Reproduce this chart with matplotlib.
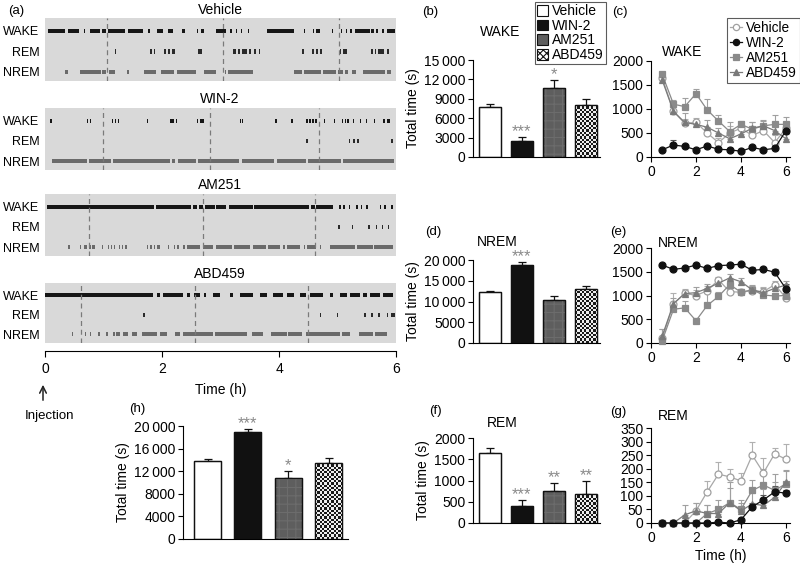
import matplotlib
matplotlib.use("Agg")
import matplotlib.pyplot as plt
import numpy as np
from matplotlib.ticker import FuncFormatter
from matplotlib.patches import Patch, FancyArrowPatch

plt.rcParams['font.family'] = ['Liberation Sans', 'DejaVu Sans']
plt.rcParams['font.size'] = 9.5
plt.rcParams['hatch.linewidth'] = 0.8

W, H = 800, 563
fig = plt.figure(figsize=(W/100, H/100), dpi=100)

def box(x0, y0, x1, y1):
    return [x0/W, 1 - y1/H, (x1-x0)/W, (y1-y0)/H]

def txt(x, y, s, **kw):
    fig.text(x/W, 1 - y/H, s, **kw)

# ---------------- data ----------------
groups = ['Vehicle', 'WIN-2', 'AM251', 'ABD459']
states = ['WAKE', 'REM', 'NREM']

# hypnogram episodes (hours)
hyp = {
 'Vehicle': {
  'WAKE': [(0.05,0.34),(0.40,0.58),(0.66,0.68),(0.77,0.94),(0.97,1.05),(1.08,1.37),(1.42,1.68),(1.76,1.79),(1.91,2.02),(2.11,2.19),(2.34,2.39),(2.60,2.62),(2.66,2.71),(2.93,3.10),(3.16,3.20),(3.26,3.28),(3.35,3.37),(3.47,3.49),(3.79,4.25),(4.42,4.45),(4.58,4.60),(4.64,4.70),(4.90,4.92),(5.06,5.08),(5.14,5.17),(5.22,5.25),(5.30,5.55),(5.58,5.62),(5.66,5.70),(5.76,5.80),(5.84,5.99)],
  'REM': [(1.20,1.22),(1.80,1.82),(1.86,1.88),(2.04,2.06),(2.11,2.13),(2.17,2.22),(2.62,2.68),(3.22,3.26),(3.30,3.34),(3.37,3.45),(3.49,3.52),(3.58,3.60),(3.66,3.68),(4.40,4.43),(4.57,4.59),(4.64,4.66),(4.70,4.74),(5.04,5.06),(5.10,5.16),(5.58,5.60),(5.64,5.66),(5.70,5.80),(5.84,5.88)],
  'NREM': [(0.34,0.40),(0.60,0.95),(0.97,1.05),(1.09,1.20),(1.40,1.43),(1.69,1.90),(1.98,2.20),(2.25,2.58),(2.72,2.92),(3.08,3.10),(3.13,3.55),(4.25,4.40),(4.42,4.72),(4.76,4.98),(5.00,5.10),(5.13,5.18),(5.25,5.32),(5.43,5.82),(5.85,5.92)],
 },
 'WIN-2': {
  'WAKE': [(0.09,0.11),(0.72,0.74),(0.77,0.79),(1.14,1.16),(1.19,1.21),(1.25,1.27),(1.74,1.76),(2.14,2.21),(2.24,2.26),(2.59,2.61),(2.65,2.71),(3.33,3.35),(3.37,3.39),(3.93,3.97),(4.21,4.23),(4.47,4.49),(4.52,4.54),(4.57,4.59),(4.62,4.64),(4.77,4.79),(4.94,4.96),(5.07,5.09),(5.12,5.14),(5.17,5.19),(5.26,5.28),(5.38,5.40),(5.48,5.50),(5.62,5.64),(5.78,5.82),(5.85,5.89)],
  'REM': [(4.47,4.49),(5.20,5.22),(5.27,5.29),(5.34,5.36),(5.92,5.95)],
  'NREM': [(0.12,0.71),(0.75,1.13),(1.16,2.13),(2.17,2.23),(2.27,2.58),(2.62,3.32),(3.36,3.92),(3.96,4.46),(4.49,5.06),(5.09,5.97)],
 },
 'AM251': {
  'WAKE': [(0.03,1.86),(1.90,2.50),(2.53,2.60),(2.64,2.70),(2.73,2.90),(2.93,3.10),(3.14,3.55),(3.58,4.52),(4.55,4.62),(4.64,4.92),(5.03,5.05),(5.10,5.12),(5.20,5.22),(5.32,5.34),(5.40,5.42),(5.48,5.52),(5.72,5.74),(5.80,5.82),(5.92,5.94)],
  'REM': [(5.01,5.04),(5.24,5.25),(5.52,5.55),(5.66,5.68),(5.76,5.78),(5.86,5.88)],
  'NREM': [(0.40,0.42),(0.60,0.62),(0.66,0.71),(0.75,0.78),(0.81,0.85),(0.97,0.99),(1.08,1.10),(1.13,1.15),(1.18,1.20),(1.26,1.28),(1.31,1.34),(1.37,1.40),(1.74,1.76),(1.80,1.82),(1.86,1.88),(1.92,1.97),(2.10,2.12),(2.20,2.22),(2.26,2.29),(2.36,2.40),(2.42,2.65),(2.70,2.88),(2.93,3.20),(3.23,3.50),(3.56,3.78),(3.82,4.02),(4.07,4.10),(4.14,4.36),(4.42,4.44),(4.48,4.64),(4.70,4.72),(4.88,5.30),(5.33,5.60),(5.63,5.95)],
 },
 'ABD459': {
  'WAKE': [(0.0,1.85),(1.91,1.97),(2.02,2.36),(2.42,2.48),(2.54,2.65),(2.71,2.76),(2.88,2.99),(3.16,3.22),(3.33,3.56),(3.68,3.79),(3.90,4.07),(4.13,4.25),(4.36,4.47),(4.53,4.76),(4.87,4.93),(5.04,5.16),(5.21,5.38),(5.44,5.50),(5.56,5.73),(5.78,5.95)],
  'REM': [(1.68,1.70),(4.70,4.72),(4.99,5.01),(5.46,5.48),(5.58,5.60),(5.70,5.72),(5.84,5.86),(5.92,5.99)],
  'NREM': [(0.46,0.48),(0.68,0.70),(0.77,0.79),(0.91,0.93),(1.05,1.07),(1.17,1.19),(1.22,1.28),(1.34,1.42),(1.48,1.57),(1.65,1.91),(1.97,2.08),(2.22,2.31),(2.36,2.88),(2.91,3.45),(3.53,3.73),(3.87,4.13),(4.16,4.39),(4.47,5.04),(5.07,5.21),(5.36,5.61),(5.64,5.84)],
 },
}
dark_marks = {'Vehicle': [1.06, 3.04, 5.03], 'WIN-2': [0.99, 2.82, 4.68],
              'AM251': [0.75, 2.70, 4.62], 'ABD459': [0.62, 2.56, 4.50]}

# total times (s) and SEM
wake_tot = [7800, 2550, 10700, 8100]
wake_err = [450, 600, 1250, 850]
nrem_tot = [12200, 18800, 10300, 12900]
nrem_err = [250, 650, 1100, 950]
rem_tot = [1640, 405, 745, 690]
rem_err = [120, 125, 195, 295]
sleep_tot = [13750, 18950, 10850, 13500]
sleep_err = [350, 520, 1230, 880]
wake_stars = ['', '***', '*', '']
nrem_stars = ['', '***', '', '']
rem_stars = ['', '***', '**', '**']
sleep_stars = ['', '***', '*', '']

# time course (30-min bins)
t_h = [0.5, 1, 1.5, 2, 2.5, 3, 3.5, 4, 4.5, 5, 5.5, 6]
wake_tc = {
 'Vehicle': [1650, 950, 700, 720, 500, 300, 500, 600, 450, 550, 300, 600],
 'WIN-2':   [150, 250, 220, 150, 230, 160, 150, 120, 200, 150, 180, 550],
 'AM251':   [1720, 1100, 1050, 1320, 980, 750, 530, 680, 580, 650, 680, 680],
 'ABD459':  [1600, 950, 720, 680, 620, 500, 380, 480, 600, 650, 550, 380],
}
wake_tc_err = {
 'Vehicle': [60, 130, 100, 100, 120, 90, 150, 100, 150, 90, 150, 120],
 'WIN-2':   [20, 110, 30, 30, 30, 30, 30, 30, 40, 30, 40, 60],
 'AM251':   [60, 80, 170, 100, 230, 120, 200, 80, 150, 130, 200, 150],
 'ABD459':  [60, 100, 200, 100, 150, 100, 100, 80, 120, 100, 150, 100],
}
nrem_tc = {
 'Vehicle': [100, 820, 1050, 1000, 1100, 1330, 1080, 1070, 1100, 1080, 1230, 950],
 'WIN-2':   [1640, 1550, 1580, 1640, 1570, 1630, 1640, 1660, 1530, 1550, 1490, 1140],
 'AM251':   [50, 710, 740, 470, 790, 980, 1230, 1070, 1120, 1010, 990, 1000],
 'ABD459':  [150, 830, 1040, 1060, 1150, 1260, 1370, 1290, 1120, 1060, 1150, 1220],
}
nrem_tc_err = {
 'Vehicle': [200, 230, 80, 120, 100, 60, 80, 60, 90, 100, 80, 60],
 'WIN-2':   [30, 50, 40, 30, 40, 40, 40, 30, 60, 50, 70, 100],
 'AM251':   [60, 100, 150, 60, 300, 100, 60, 60, 80, 70, 60, 60],
 'ABD459':  [150, 120, 80, 120, 100, 80, 80, 80, 100, 100, 80, 80],
}
rem_tc = {
 'Vehicle': [0, 0, 0, 45, 115, 180, 170, 155, 250, 185, 255, 235],
 'WIN-2':   [0, 0, 0, 0, 0, 3, 0, 12, 60, 85, 115, 110],
 'AM251':   [0, 0, 0, 0, 35, 50, 75, 50, 120, 140, 120, 145],
 'ABD459':  [0, 0, 30, 45, 35, 35, 75, 45, 70, 65, 95, 150],
}
rem_tc_err = {
 'Vehicle': [0, 0, 0, 30, 40, 45, 30, 30, 50, 55, 20, 55],
 'WIN-2':   [0, 0, 0, 0, 0, 3, 0, 5, 15, 20, 20, 10],
 'AM251':   [0, 0, 0, 0, 30, 35, 75, 35, 40, 60, 60, 50],
 'ABD459':  [0, 0, 35, 30, 30, 20, 55, 30, 40, 60, 55, 40],
}

# ---------------- styles ----------------
bg = '#d9d9d9'
state_col = {'WAKE': '#161616', 'REM': '#2a2a2a', 'NREM': '#6a6a6a'}
star_col = '#8a8a8a'

def kfmt(v, pos):
    v = int(round(v))
    if v >= 10000:
        return f"{v//1000}\u2009{v%1000:03d}"
    return f"{v}"

# ---------------- (a) hypnograms ----------------
hyp_boxes = [(18, 81), (108, 170), (194, 256), (283, 343)]
title_y = [10, 99, 185, 274]
row_y = {'WAKE': 2, 'REM': 1, 'NREM': 0}
for i, g in enumerate(groups):
    y0, y1 = hyp_boxes[i]
    ax = fig.add_axes(box(45, y0, 396, y1))
    ax.set_facecolor(bg)
    ax.set_xlim(0, 6)
    ax.set_ylim(-0.44, 2.63)
    for s in states:
        segs = [(a, max(b - a, 0.022)) for a, b in hyp[g][s]]
        ax.broken_barh(segs, (row_y[s] - 0.1, 0.2), facecolors=state_col[s], linewidth=0)
    for m in dark_marks[g]:
        ax.axvline(m, color='#7a7a7a', lw=0.9, ls=(0, (4, 3)))
    ax.set_yticks([2, 1, 0])
    ax.set_yticklabels(['WAKE', 'REM', 'NREM'], fontsize=9)
    ax.tick_params(axis='y', length=0, pad=4)
    for sp in ax.spines.values():
        sp.set_visible(False)
    txt(220, title_y[i], g, ha='center', va='center', fontsize=10)
    if i < 3:
        ax.set_xticks([])
    else:
        ax.spines['bottom'].set_visible(True)
        ax.spines['bottom'].set_position(('outward', 6))
        ax.set_xticks([0, 2, 4, 6])
        ax.tick_params(axis='x', length=4, labelsize=10)
        ax.set_xlabel('Time (h)', fontsize=10, labelpad=5)

txt(8, 11, '(a)', ha='left', va='center', fontsize=9.5)
fig.add_artist(FancyArrowPatch(
    (43/W, 1 - 403/H), (43/W, 1 - 382/H), transform=fig.transFigure,
    arrowstyle='->', mutation_scale=12, lw=1.1, color='#222222'))
txt(50, 416, 'Injection', ha='center', va='center', fontsize=9.5)

# ---------------- bar panels ----------------
face = ['white', '#111111', '#5e5e5e', 'white']

def checker_fill(ax, rect):
    x0, y0 = rect.get_x(), rect.get_y()
    x1, y1 = x0 + rect.get_width(), y0 + rect.get_height()
    p0 = ax.transData.transform((x0, y0)); p1 = ax.transData.transform((x1, y1))
    nx = max(int(abs(p1[0] - p0[0]) / 2.2), 1)
    ny = max(int(abs(p1[1] - p0[1]) / 2.2), 1)
    ii, jj = np.indices((ny, nx))
    img = ((ii + jj) % 2).astype(float)
    im = ax.imshow(img, cmap='gray', vmin=-0.12, vmax=1.08, extent=(x0, x1, y0, y1),
                   aspect='auto', interpolation='nearest', zorder=3)
    im.set_clip_path(rect)

def bar_panel(rect, vals, errs, stars, ylim, yticks, xlim, width):
    ax = fig.add_axes(rect)
    x = np.arange(4)
    ax.set_xlim(*xlim)
    ax.set_ylim(*ylim)
    bars = ax.bar(x, vals, width=width, color=face, edgecolor='#111111', linewidth=0.9, zorder=2)
    ax.bar(x[2], vals[2], width=width, color='none', edgecolor='#6c6c6c',
           hatch='++', linewidth=0, zorder=3)
    checker_fill(ax, bars[3])
    ax.bar(x, vals, width=width, color='none', edgecolor='#111111', linewidth=0.9, zorder=4)
    ax.errorbar(x, vals, yerr=[np.zeros(4), errs], fmt='none', ecolor='#111111',
                elinewidth=0.9, capsize=3, capthick=0.9, zorder=1)
    for k in range(4):
        if stars[k]:
            ax.annotate(stars[k], (x[k], vals[k] + errs[k]), xytext=(0, -1.5),
                        textcoords='offset points', ha='center', va='bottom',
                        color=star_col, fontsize=12)
    ax.set_xlim(*xlim)
    ax.set_ylim(*ylim)
    ax.set_yticks(yticks)
    ax.yaxis.set_major_formatter(FuncFormatter(kfmt))
    ax.set_xticks([])
    for sp in ['top', 'right']:
        ax.spines[sp].set_visible(False)
    ax.tick_params(axis='y', length=3.5, labelsize=10, pad=2)
    ax.set_ylabel('Total time (s)', fontsize=10, labelpad=3)
    return ax

bx = (-0.53, 3.44)
bar_panel(box(473, 60, 600, 157), wake_tot, wake_err, wake_stars, (0, 15000),
          [0, 3000, 6000, 9000, 12000, 15000], bx, 0.69)
bar_panel(box(473, 260, 600, 343), nrem_tot, nrem_err, nrem_stars, (0, 20000),
          [0, 5000, 10000, 15000, 20000], bx, 0.69)
bar_panel(box(473, 438, 600, 523), rem_tot, rem_err, rem_stars, (0, 2000),
          [0, 500, 1000, 1500, 2000], bx, 0.69)
bar_panel(box(183, 426, 348, 539), sleep_tot, sleep_err, sleep_stars, (0, 20000),
          [0, 4000, 8000, 12000, 16000, 20000], (-0.61, 3.48), 0.67)

# legend for bars
handles = [Patch(facecolor='white', edgecolor='#111111', linewidth=0.8),
           Patch(facecolor='#111111', edgecolor='#111111', linewidth=0.8),
           Patch(facecolor='#5e5e5e', edgecolor='#111111', linewidth=0.8),
           Patch(facecolor='white', edgecolor='#111111', hatch='xxxxx', linewidth=0.8)]
lax = fig.add_axes(box(535, 2, 603, 55))
lax.axis('off')
leg = lax.legend(handles, groups, loc='upper left', bbox_to_anchor=(0, 1.0), frameon=True,
                 fancybox=False, edgecolor='#333333', fontsize=10, handlelength=0.8,
                 handleheight=0.8, handletextpad=0.3, borderpad=0.15, labelspacing=0.05,
                 borderaxespad=0)
leg.get_frame().set_linewidth(0.8)

# ---------------- time course panels ----------------
line_style = {
 'Vehicle': dict(color='#a8a8a8', marker='o', mfc='white', mec='#a0a0a0', ms=5),
 'WIN-2':   dict(color='#111111', marker='o', mfc='#111111', mec='#111111', ms=5),
 'AM251':   dict(color='#8a8a8a', marker='s', mfc='#8a8a8a', mec='#8a8a8a', ms=5),
 'ABD459':  dict(color='#7a7a7a', marker='^', mfc='#7a7a7a', mec='#7a7a7a', ms=5),
}
err_col = {'Vehicle': '#b0b0b0', 'WIN-2': '#555555', 'AM251': '#a0a0a0', 'ABD459': '#a0a0a0'}
order = ['Vehicle', 'AM251', 'ABD459', 'WIN-2']

def tc_panel(rect, data, err, ylim, yticks, xlabel=False):
    ax = fig.add_axes(rect)
    lines = {}
    for g in order:
        y = np.array(data[g]); e = np.array(err[g])
        ax.errorbar(t_h, y, yerr=[np.zeros_like(e), e], fmt='none', ecolor=err_col[g],
                    elinewidth=0.8, capsize=2.5, capthick=0.8, zorder=1)
        st = line_style[g]
        ln, = ax.plot(t_h, y, color=st['color'], lw=0.9, marker=st['marker'],
                      mfc=st['mfc'], mec=st['mec'], ms=st['ms'], mew=0.9, zorder=3, clip_on=False)
        lines[g] = ln
    ax.set_xlim(0, 6.18)
    ax.set_ylim(*ylim)
    ax.set_xticks([0, 2, 4, 6])
    ax.set_yticks(yticks)
    for sp in ['top', 'right']:
        ax.spines[sp].set_visible(False)
    ax.tick_params(length=3.5, labelsize=10, pad=2)
    if xlabel:
        ax.set_xlabel('Time (h)', fontsize=10, labelpad=3)
    return ax, lines

axc, lines = tc_panel(box(651, 61, 790, 157), wake_tc, wake_tc_err, (0, 2000),
                      [0, 500, 1000, 1500, 2000])
tc_panel(box(651, 248, 790, 343), nrem_tc, nrem_tc_err, (0, 2000),
         [0, 500, 1000, 1500, 2000])
tc_panel(box(651, 428, 790, 523), rem_tc, rem_tc_err, (0, 350),
         list(range(0, 351, 50)), xlabel=True)

lax2 = fig.add_axes(box(727, 18, 793, 76))
lax2.axis('off')
leg2 = lax2.legend([lines[g] for g in groups], groups, loc='upper left', bbox_to_anchor=(0, 1.0),
                   frameon=True, fancybox=False, edgecolor='#333333', fontsize=9.8,
                   handlelength=0.9, handletextpad=0.3, borderpad=0.2, labelspacing=0.08,
                   borderaxespad=0, markerscale=0.9)
leg2.get_frame().set_linewidth(0.8)

# ---------------- panel labels / titles ----------------
for (x, y, s) in [(430, 12, '(b)'), (620, 12, '(c)'), (433, 232, '(d)'), (618, 232, '(e)'),
                  (435, 411, '(f)'), (618, 412, '(g)'), (137, 409, '(h)')]:
    txt(x, y, s, ha='center', va='center', fontsize=9.5)
for (x, y, s) in [(500, 32, 'WAKE'), (682, 52, 'WAKE'), (497, 242, 'NREM'), (678, 243, 'NREM'),
                  (502, 423, 'REM'), (673, 416, 'REM')]:
    txt(x, y, s, ha='center', va='center', fontsize=10)

fig.savefig('out.png', dpi=100)
